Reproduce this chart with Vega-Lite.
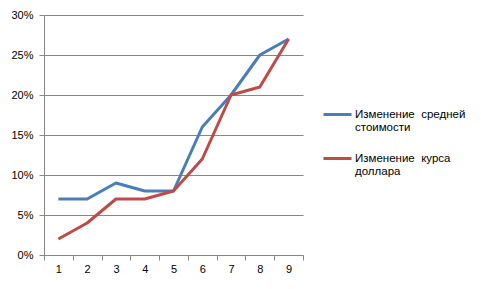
{
  "$schema": "https://vega.github.io/schema/vega-lite/v6.json",
  "width": 259,
  "height": 240,
  "autosize": {"type": "none"},
  "padding": {"left": 44, "top": 15, "right": 178, "bottom": 34},
  "background": "white",
  "config": {
    "view": {"stroke": null},
    "font": "Liberation Sans",
    "axis": {"labelFont": "Liberation Sans", "labelFontSize": 11, "labelColor": "#000000", "domainColor": "#868686", "tickColor": "#868686", "gridColor": "#868686", "title": null}
  },
  "data": {
    "values": [
      {"x": "1", "s": "Изменение  средней стоимости", "v": 0.07},
      {"x": "2", "s": "Изменение  средней стоимости", "v": 0.07},
      {"x": "3", "s": "Изменение  средней стоимости", "v": 0.09},
      {"x": "4", "s": "Изменение  средней стоимости", "v": 0.08},
      {"x": "5", "s": "Изменение  средней стоимости", "v": 0.08},
      {"x": "6", "s": "Изменение  средней стоимости", "v": 0.16},
      {"x": "7", "s": "Изменение  средней стоимости", "v": 0.20},
      {"x": "8", "s": "Изменение  средней стоимости", "v": 0.25},
      {"x": "9", "s": "Изменение  средней стоимости", "v": 0.27},
      {"x": "1", "s": "Изменение  курса доллара", "v": 0.02},
      {"x": "2", "s": "Изменение  курса доллара", "v": 0.04},
      {"x": "3", "s": "Изменение  курса доллара", "v": 0.07},
      {"x": "4", "s": "Изменение  курса доллара", "v": 0.07},
      {"x": "5", "s": "Изменение  курса доллара", "v": 0.08},
      {"x": "6", "s": "Изменение  курса доллара", "v": 0.12},
      {"x": "7", "s": "Изменение  курса доллара", "v": 0.20},
      {"x": "8", "s": "Изменение  курса доллара", "v": 0.21},
      {"x": "9", "s": "Изменение  курса доллара", "v": 0.27}
    ]
  },
  "mark": {"type": "line", "strokeWidth": 3, "strokeJoin": "round"},
  "encoding": {
    "x": {
      "field": "x", "type": "ordinal",
      "scale": {"paddingInner": 0, "paddingOuter": 0},
      "axis": {"labelAngle": 0, "tickBand": "extent", "tickSize": 5, "labelPadding": 3, "domainColor": "#868686"}
    },
    "y": {
      "field": "v", "type": "quantitative",
      "scale": {"domain": [0, 0.3], "nice": false},
      "axis": {"values": [0, 0.05, 0.1, 0.15, 0.2, 0.25, 0.3], "format": ".0%", "tickSize": 5, "labelPadding": 6, "grid": true}
    },
    "color": {
      "field": "s", "type": "nominal",
      "scale": {"domain": ["Изменение  средней стоимости", "Изменение  курса доллара"], "range": ["#4A7EBB", "#BE4B48"]},
      "legend": {
        "title": null,
        "orient": "none",
        "legendX": 278,
        "legendY": 84,
        "symbolType": "stroke",
        "symbolSize": 784,
        "symbolStrokeWidth": 3,
        "symbolOffset": 0,
        "labelOffset": 2,
        "labelFont": "Liberation Sans",
        "labelFontSize": 11.5,
        "labelColor": "#000000",
        "labelLimit": 200,
        "rowPadding": 9,
        "labelExpr": "datum.label == 'Изменение  средней стоимости' ? ['Изменение\u00a0 средней', 'стоимости'] : ['Изменение\u00a0 курса', 'доллара']"
      }
    }
  }
}
